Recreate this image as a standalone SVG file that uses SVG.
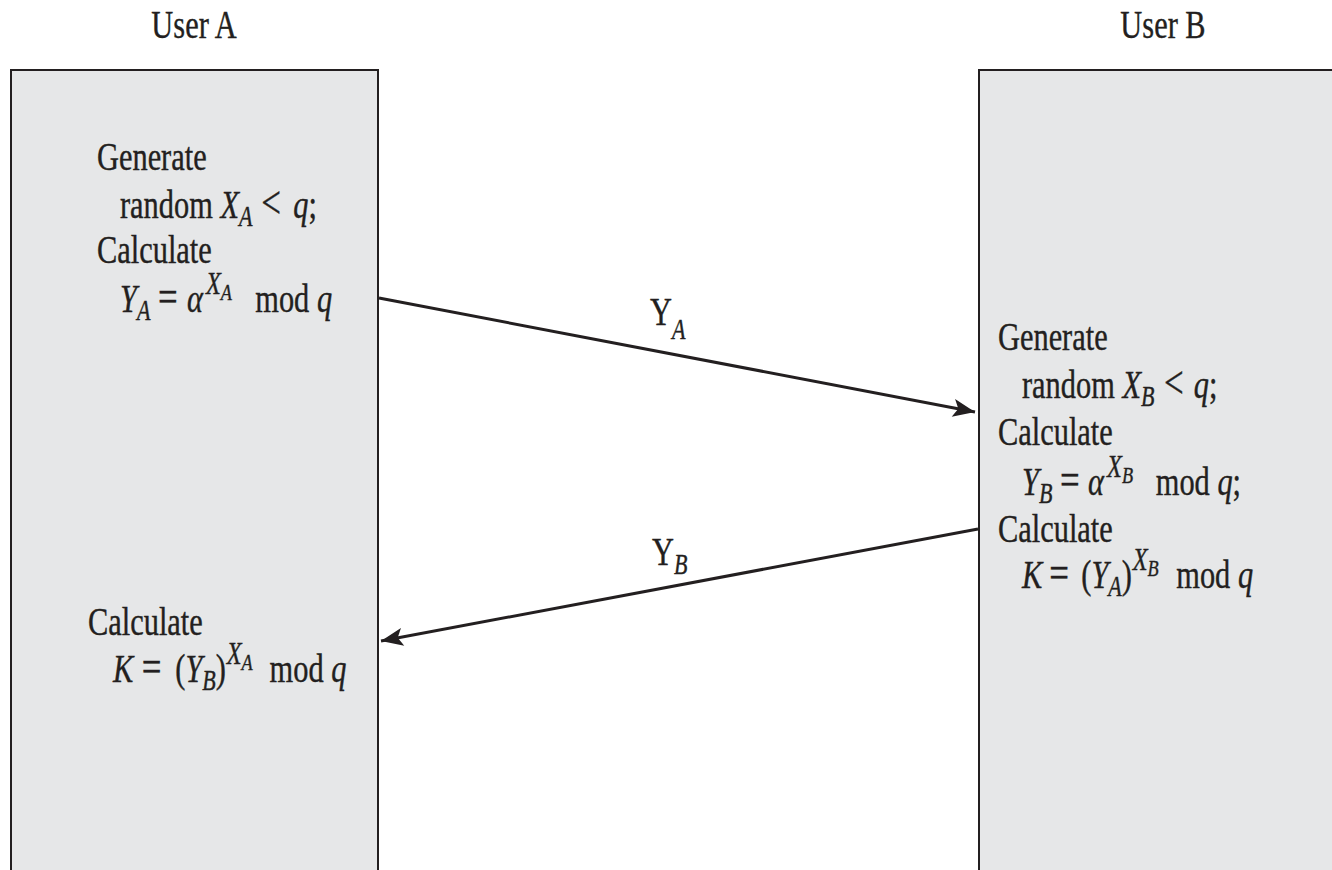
<svg xmlns="http://www.w3.org/2000/svg" width="1332" height="870" viewBox="0 0 1332 870">
<style>
.box{fill:#e6e7e8;stroke:#231f20;stroke-width:2}
.t{font-family:"Liberation Serif","Times New Roman",serif;font-size:40px;fill:#231f20;stroke:#231f20;stroke-width:0.4}
.i{font-style:italic}
.s{font-size:29px}
.sp{font-size:32px}
.ss{font-size:24px}
.op{font-size:46px}
.conn{stroke:#231f20;stroke-width:3;fill:none}
</style>
<defs>
<marker id="ah" markerUnits="userSpaceOnUse" markerWidth="26" markerHeight="22" refX="22" refY="9" orient="auto" overflow="visible">
<path d="M0,0 L22,9 L0,18 L5,9 Z" fill="#231f20"/>
</marker>
</defs>
<rect width="1332" height="870" fill="#ffffff"/>

<g id="userA">
<text class="t" transform="translate(194,38) scale(0.76,1)" text-anchor="middle">User A</text>
<rect class="box" x="11" y="70" width="367" height="820"/>
<text class="t" transform="translate(97,170) scale(0.76,1)">Generate</text>
<text class="t" transform="translate(120,218) scale(0.76,1)">random <tspan class="i">X</tspan><tspan class="i s" dy="8">A</tspan><tspan class="op" dy="-8" x="186">&lt;</tspan><tspan class="i" x="228">q</tspan>;</text>
<text class="t" transform="translate(97,263) scale(0.76,1)">Calculate</text>
<text class="t" transform="translate(120,312) scale(0.76,1)"><tspan class="i">Y</tspan><tspan class="i s" dy="8">A</tspan><tspan class="op" dy="-8" x="50">=</tspan><tspan class="i" x="88">α</tspan><tspan class="i sp" dy="-18" x="113">X</tspan><tspan class="i ss" dy="6">A</tspan><tspan dy="12" x="178">mod </tspan><tspan class="i">q</tspan></text>
<text class="t" transform="translate(88,635) scale(0.76,1)">Calculate</text>
<text class="t" transform="translate(113,682) scale(0.76,1)"><tspan class="i">K</tspan><tspan class="op" x="38">=</tspan><tspan x="82">(</tspan><tspan class="i">Y</tspan><tspan class="i s" dy="8">B</tspan><tspan dy="-8">)</tspan><tspan class="i sp" dy="-18" dx="1">X</tspan><tspan class="i ss" dy="6">A</tspan><tspan dy="12" x="206">mod </tspan><tspan class="i">q</tspan></text>
</g>

<g id="userB">
<text class="t" transform="translate(1163,38) scale(0.76,1)" text-anchor="middle">User B</text>
<rect class="box" x="979" y="70" width="380" height="820"/>
<text class="t" transform="translate(998,350) scale(0.76,1)">Generate</text>
<text class="t" transform="translate(1022,398) scale(0.76,1)">random <tspan class="i">X</tspan><tspan class="i s" dy="8">B</tspan><tspan class="op" dy="-8" x="187">&lt;</tspan><tspan class="i" x="226">q</tspan>;</text>
<text class="t" transform="translate(998,445) scale(0.76,1)">Calculate</text>
<text class="t" transform="translate(1022,495) scale(0.76,1)"><tspan class="i">Y</tspan><tspan class="i s" dy="8">B</tspan><tspan class="op" dy="-8" x="50">=</tspan><tspan class="i" x="87">α</tspan><tspan class="i sp" dy="-18" x="112">X</tspan><tspan class="i ss" dy="6">B</tspan><tspan dy="12" x="176">mod </tspan><tspan class="i">q</tspan>;</text>
<text class="t" transform="translate(998,542) scale(0.76,1)">Calculate</text>
<text class="t" transform="translate(1022,588) scale(0.76,1)"><tspan class="i">K</tspan><tspan class="op" x="36">=</tspan><tspan x="78">(</tspan><tspan class="i">Y</tspan><tspan class="i s" dy="8">A</tspan><tspan dy="-8">)</tspan><tspan class="i sp" dy="-18" dx="1">X</tspan><tspan class="i ss" dy="6">B</tspan><tspan dy="12" x="203">mod </tspan><tspan class="i">q</tspan></text>
</g>

<g id="connectors">
<line class="conn" x1="379" y1="298" x2="975" y2="412" marker-end="url(#ah)"/>
<line class="conn" x1="978" y1="529" x2="381" y2="641" marker-end="url(#ah)"/>
<text class="t" transform="translate(650,325) scale(0.76,1)">Y<tspan class="i s" dy="14">A</tspan></text>
<text class="t" transform="translate(652,565) scale(0.76,1)">Y<tspan class="i s" dy="9">B</tspan></text>
</g>
</svg>
